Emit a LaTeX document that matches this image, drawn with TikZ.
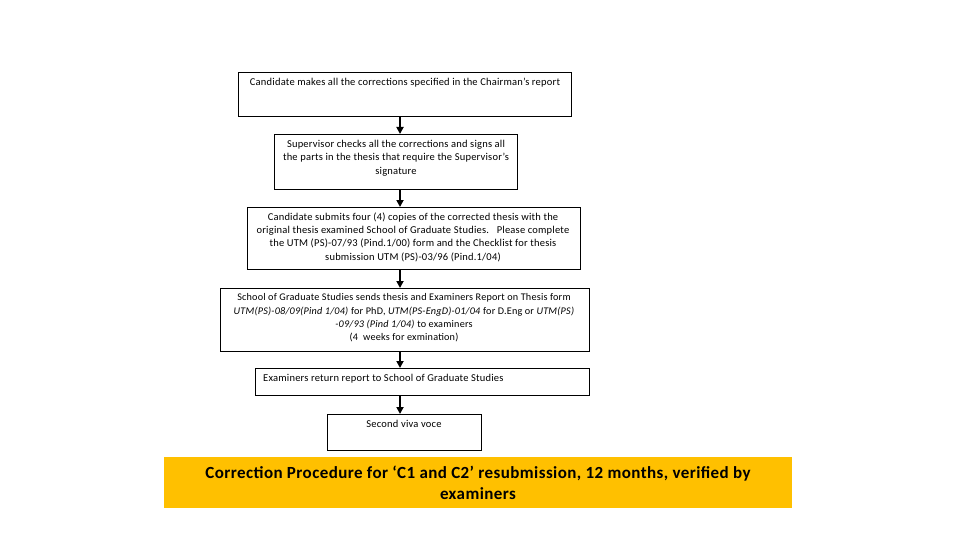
\documentclass[tikz,border=0pt]{standalone}
\usepackage{fontspec}
\setmainfont{Carlito}[LetterSpace=2]
\newfontfamily\bannerfont{Carlito}[LetterSpace=2.5]
\usetikzlibrary{arrows.meta}
\definecolor{banner}{HTML}{FFC000}
\begin{document}
\begin{tikzpicture}[x=1pt,y=-1pt,
  box/.style={draw=black,line width=1pt,inner sep=0pt},
  txt/.style={inner sep=0pt,align=center,font=\fontsize{10.5}{13.3}\selectfont},
  flow/.style={line width=2pt,-{Triangle[length=7pt,width=7pt]}}]
\useasboundingbox (0,0) rectangle (960,540);
% boxes
\node[box,minimum width=333pt,minimum height=44pt,anchor=north west] (b1) at (238,72) {};
\node[box,minimum width=243pt,minimum height=55pt,anchor=north west] (b2) at (274,134) {};
\node[box,minimum width=333pt,minimum height=62pt,anchor=north west] (b3) at (247,207) {};
\node[box,minimum width=369pt,minimum height=63pt,anchor=north west] (b4) at (220,288) {};
\node[box,minimum width=334pt,minimum height=27pt,anchor=north west] (b5) at (255,368) {};
\node[box,minimum width=154pt,minimum height=36pt,anchor=north west] (b6) at (327,414) {};
\node[fill=banner,minimum width=628pt,minimum height=51pt,anchor=north west,inner sep=0pt] (ban) at (164,457) {};
% texts
\node[txt] (t1) at (405,83) {Candidate makes all the corrections specified in the Chairman’s report};
\node[txt,anchor=center] (t2) at (396,158) {Supervisor checks all the corrections and signs all\\the parts in the thesis that require the Supervisor’s\\signature};
\node[txt] (t3) at (413,237) {Candidate submits four (4) copies of the corrected thesis with the\\original thesis examined School of Graduate Studies.\ \ \ Please complete\\the UTM (PS)-07/93 (Pind.1/00) form and the Checklist for thesis\\submission UTM (PS)-03/96 (Pind.1/04)};
\node[txt,font=\fontsize{10.2}{13.3}\selectfont] (t4) at (404,318) {School of Graduate Studies sends thesis and Examiners Report on Thesis form\\\textit{UTM(PS)-08/09(Pind 1/04)} for PhD, \textit{UTM(PS-EngD)-01/04} for D.Eng or \textit{UTM(PS)}\\\textit{-09/93 (Pind 1/04)} to examiners\\(4\ \ weeks for exmination)};
\node[txt,anchor=west] (t5) at (263,379) {Examiners return report to School of Graduate Studies};
\node[txt] (t6) at (404,424) {Second viva voce};
\node[inner sep=0pt,align=center,font=\bannerfont\fontsize{17}{21}\selectfont\bfseries] (tb) at (478,482.5) {Correction Procedure for ‘C1 and C2’ resubmission, 12 months, verified by\\examiners};
% arrows
\draw[flow] (b1.south -| 400,0) -- (b2.north -| 400,0);
\draw[flow] (b2.south -| 400,0) -- (b3.north -| 400,0);
\draw[flow] (b3.south -| 400,0) -- (b4.north -| 400,0);
\draw[flow] (b4.south -| 400,0) -- (b5.north -| 400,0);
\draw[flow] (b5.south -| 400,0) -- (b6.north -| 400,0);
\end{tikzpicture}
\end{document}
